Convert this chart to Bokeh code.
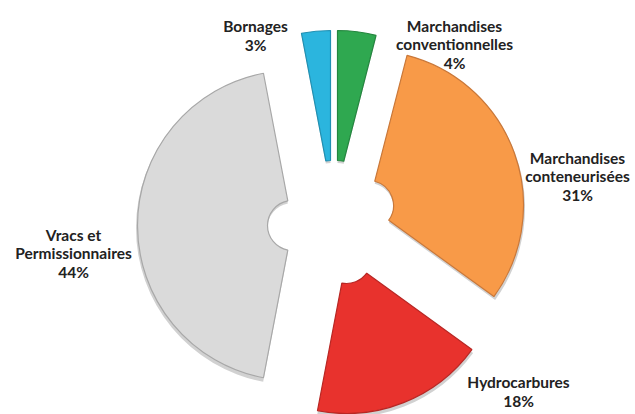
import numpy as np
from bokeh.plotting import figure
from bokeh.models import Range1d, ColumnDataSource
from bokeh.core.properties import value
from bokeh.embed import file_html
from bokeh.resources import INLINE

# ---- data (clockwise from 12 o'clock) ----
categories = ["Marchandises\nconventionnelles", "Marchandises\nconteneurisées",
              "Hydrocarbures", "Vracs et\nPermissionnaires", "Bornages"]
shares = [4, 31, 18, 44, 3]

# ---- styles / layout ----
colors = ["#2fa850", "#f89a48", "#e8322d", "#dadada", "#2bb5de"]
edge_colors = ["#24863f", "#c9783a", "#b82724", "#a8a8a8", "#2190b2"]
W, H = 635, 414
CX, CY = 328, H - 222
R_OUT, R_IN = 155, 25
# explosion offsets of each slice (pixels, right / down)
offsets = [(9, -37), (40, -17), (18, 36), (-36, 3), (2, -37)]
label_px = [(454, 44), (577, 176), (518, 391), (73, 253), (255, 35)]

total = float(sum(shares))
cum = np.concatenate([[0.0], np.cumsum(shares)]) / total * 360.0
start_cw = cum[:-1]
end_cw = cum[1:]
xs = CX + np.array([o[0] for o in offsets], dtype=float)
ys = CY - np.array([o[1] for o in offsets], dtype=float)

src = ColumnDataSource(dict(
    x=xs, y=ys,
    start=np.radians(90.0 - end_cw), end=np.radians(90.0 - start_cw),
    color=colors, edge=edge_colors,
    sx=xs, sy=ys - 2.5,
))

p = figure(width=W, height=H, output_backend="svg", toolbar_location=None,
           x_range=Range1d(0, W), y_range=Range1d(0, H),
           x_axis_type=None, y_axis_type=None, min_border=0)
p.grid.visible = False
p.outline_line_color = None
p.background_fill_color = "white"
p.border_fill_color = "white"

# soft shadow
p.annular_wedge(x="sx", y="sy", inner_radius=R_IN, outer_radius=R_OUT + 1.5,
                start_angle="start", end_angle="end",
                direction="anticlock", fill_color="#7a7a7a", fill_alpha=0.35,
                line_color=None, source=src)
p.annular_wedge(x="x", y="y", inner_radius=R_IN, outer_radius=R_OUT,
                start_angle="start", end_angle="end",
                direction="anticlock", fill_color="color", line_color="edge",
                line_width=1.2, source=src)

labels = [f"{c}\n{s}%" for c, s in zip(categories, shares)]
lsrc = ColumnDataSource(dict(
    x=[lp[0] for lp in label_px],
    y=[H - lp[1] for lp in label_px],
    t=labels,
))
p.text(x="x", y="y", text="t", source=lsrc, text_font=value("Lato"),
       text_font_style="bold", text_font_size="15.5px", text_color="#222222",
       text_align="center", text_baseline="middle", text_line_height=1.05)

open("out.html", "w").write(file_html(p, INLINE))
